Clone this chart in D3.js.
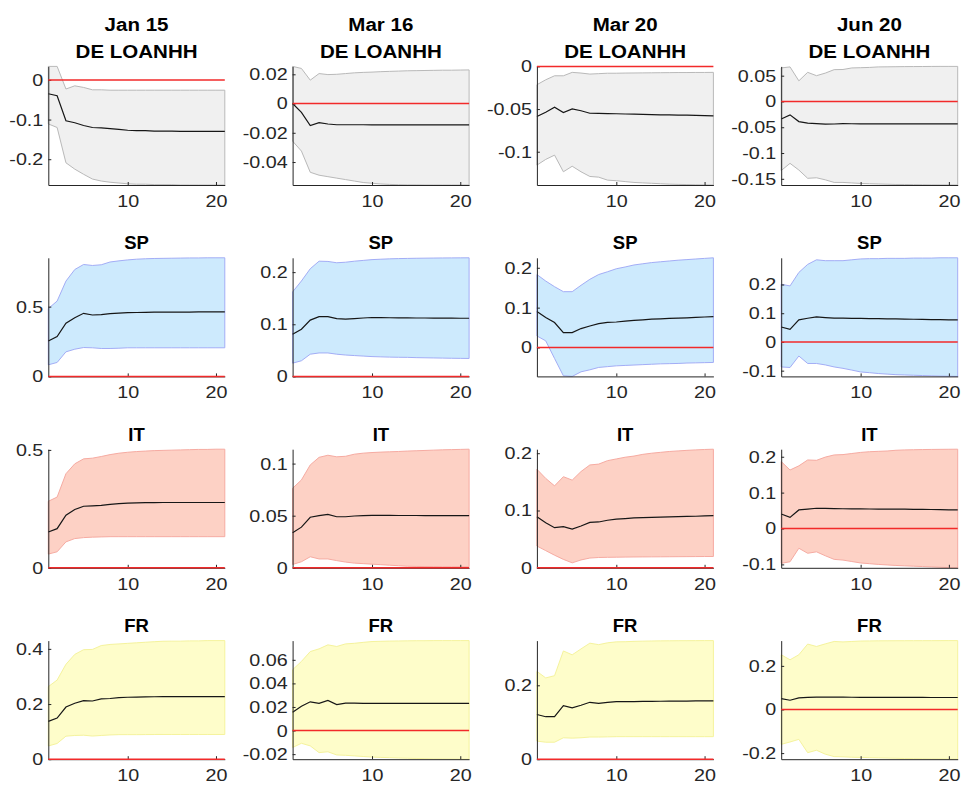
<!DOCTYPE html>
<html>
<head>
<meta charset="utf-8">
<script src="https://cdn.jsdelivr.net/npm/d3@7"></script>
<style>
  html, body { margin: 0; padding: 0; background: #ffffff; }
  svg { display: block; font-family: "Liberation Sans", Arial, Helvetica, sans-serif; }
</style>
</head>
<body>
<svg id="chart" width="961" height="785"></svg>
<script>
// Impulse responses over horizons 1..21: median and credible band per panel.
const horizons = d3.range(1, 22);
const columnDates = ["Jan 15", "Mar 16", "Mar 20", "Jun 20"];
const rowNames = ["DE LOANHH", "SP", "IT", "FR"];
const xTicks = [10, 20];

// DE LOANHH
const DE_Jan15_mid = [-0.035,-0.040,-0.103,-0.108,-0.115,-0.120,-0.121,-0.123,-0.125,-0.127,-0.128,-0.128,-0.129,-0.129,-0.129,-0.130,-0.130,-0.130,-0.130,-0.130,-0.130];
const DE_Jan15_hi  = [0.034,0.034,-0.023,-0.015,-0.019,-0.025,-0.025,-0.026,-0.026,-0.026,-0.026,-0.026,-0.026,-0.026,-0.026,-0.026,-0.026,-0.026,-0.026,-0.026,-0.026];
const DE_Jan15_lo  = [-0.111,-0.120,-0.209,-0.225,-0.238,-0.250,-0.255,-0.258,-0.260,-0.262,-0.263,-0.263,-0.264,-0.264,-0.264,-0.265,-0.265,-0.265,-0.265,-0.265,-0.265];

const DE_Mar16_mid = [0.000,-0.006,-0.015,-0.013,-0.014,-0.0145,-0.0145,-0.0145,-0.0145,-0.0146,-0.0146,-0.0146,-0.0146,-0.0146,-0.0146,-0.0146,-0.0146,-0.0146,-0.0146,-0.0146,-0.0146];
const DE_Mar16_hi  = [0.0254,0.024,0.016,0.0205,0.0198,0.020,0.0205,0.021,0.0213,0.0215,0.0218,0.022,0.0222,0.0224,0.0225,0.0226,0.0227,0.0228,0.0228,0.0229,0.023];
const DE_Mar16_lo  = [-0.0257,-0.0325,-0.047,-0.049,-0.050,-0.051,-0.052,-0.053,-0.054,-0.0545,-0.055,-0.0553,-0.0555,-0.0556,-0.0556,-0.0557,-0.0557,-0.0557,-0.0557,-0.0557,-0.0557];

const DE_Mar20_mid = [-0.0588,-0.0537,-0.0478,-0.054,-0.0498,-0.052,-0.0549,-0.055,-0.0553,-0.0555,-0.0558,-0.056,-0.0563,-0.0565,-0.0567,-0.0569,-0.057,-0.0572,-0.0574,-0.0576,-0.058];
const DE_Mar20_hi  = [-0.0215,-0.0157,-0.011,-0.011,-0.007,-0.0078,-0.009,-0.0085,-0.008,-0.008,-0.0078,-0.0077,-0.0076,-0.0075,-0.0074,-0.0073,-0.0072,-0.0072,-0.0071,-0.0071,-0.007];
const DE_Mar20_lo  = [-0.1157,-0.109,-0.104,-0.1235,-0.117,-0.1235,-0.129,-0.1298,-0.1333,-0.134,-0.135,-0.136,-0.1365,-0.137,-0.1375,-0.138,-0.1383,-0.1385,-0.1387,-0.1389,-0.139];

const DE_Jun20_mid = [-0.034,-0.026,-0.039,-0.042,-0.043,-0.044,-0.0437,-0.043,-0.0432,-0.0433,-0.0434,-0.0434,-0.0434,-0.0434,-0.0434,-0.0434,-0.0434,-0.0434,-0.0434,-0.0434,-0.0434];
const DE_Jun20_hi  = [0.065,0.067,0.040,0.0565,0.050,0.055,0.0617,0.062,0.065,0.0655,0.066,0.067,0.0672,0.0674,0.0676,0.0677,0.0678,0.0679,0.068,0.068,0.068];
const DE_Jun20_lo  = [-0.134,-0.120,-0.133,-0.149,-0.148,-0.152,-0.157,-0.157,-0.158,-0.159,-0.1595,-0.160,-0.1605,-0.161,-0.161,-0.1613,-0.1615,-0.1617,-0.1618,-0.1619,-0.162];

// SP
const SP_Jan15_mid = [0.254,0.286,0.381,0.421,0.452,0.440,0.443,0.450,0.454,0.457,0.458,0.459,0.460,0.460,0.461,0.461,0.461,0.462,0.462,0.462,0.462];
const SP_Jan15_hi  = [0.486,0.540,0.683,0.766,0.802,0.795,0.800,0.820,0.828,0.835,0.840,0.843,0.845,0.846,0.847,0.848,0.849,0.849,0.850,0.850,0.850];
const SP_Jan15_lo  = [0.083,0.100,0.176,0.195,0.207,0.205,0.200,0.200,0.202,0.205,0.205,0.205,0.205,0.205,0.205,0.205,0.205,0.205,0.205,0.205,0.205];

const SP_Mar16_mid = [0.081,0.0904,0.108,0.1147,0.1147,0.111,0.110,0.111,0.112,0.113,0.1128,0.1125,0.1123,0.1122,0.112,0.112,0.1118,0.1117,0.1116,0.1115,0.1115];
const SP_Mar16_hi  = [0.162,0.183,0.2065,0.221,0.2205,0.218,0.219,0.221,0.2225,0.224,0.2248,0.2255,0.226,0.2263,0.2266,0.2268,0.227,0.2272,0.2273,0.2274,0.2275];
const SP_Mar16_lo  = [0.0254,0.030,0.0426,0.045,0.045,0.0426,0.041,0.040,0.039,0.038,0.0375,0.037,0.0367,0.0365,0.036,0.0357,0.0354,0.0351,0.0348,0.0346,0.0344];

const SP_Mar20_mid = [0.090,0.075,0.0625,0.0375,0.0375,0.0475,0.054,0.060,0.063,0.064,0.066,0.068,0.0695,0.071,0.072,0.073,0.0738,0.0745,0.0755,0.0765,0.0775];
const SP_Mar20_hi  = [0.183,0.1667,0.1525,0.140,0.140,0.156,0.171,0.183,0.190,0.1975,0.202,0.207,0.210,0.213,0.215,0.217,0.219,0.2205,0.222,0.2235,0.225];
const SP_Mar20_lo  = [0.029,0.0167,-0.0275,-0.071,-0.0725,-0.061,-0.056,-0.050,-0.048,-0.046,-0.045,-0.044,-0.043,-0.042,-0.041,-0.0405,-0.040,-0.039,-0.0385,-0.038,-0.0375];

const SP_Jun20_mid = [0.052,0.044,0.0767,0.0826,0.087,0.085,0.083,0.0826,0.0823,0.082,0.0815,0.081,0.0805,0.080,0.0795,0.079,0.0785,0.078,0.0775,0.077,0.0767];
const SP_Jun20_hi  = [0.201,0.195,0.242,0.270,0.286,0.283,0.283,0.283,0.286,0.289,0.290,0.290,0.291,0.291,0.291,0.292,0.292,0.292,0.293,0.293,0.293];
const SP_Jun20_lo  = [-0.087,-0.089,-0.049,-0.075,-0.075,-0.080,-0.087,-0.092,-0.098,-0.1045,-0.107,-0.110,-0.112,-0.114,-0.115,-0.116,-0.117,-0.118,-0.119,-0.1195,-0.120];

// IT
const IT_Jan15_mid = [0.152,0.166,0.223,0.247,0.261,0.263,0.265,0.269,0.272,0.274,0.275,0.276,0.276,0.277,0.277,0.277,0.277,0.277,0.277,0.277,0.277];
const IT_Jan15_hi  = [0.282,0.300,0.399,0.441,0.462,0.465,0.472,0.480,0.486,0.490,0.493,0.495,0.497,0.498,0.499,0.500,0.501,0.502,0.502,0.503,0.503];
const IT_Jan15_lo  = [0.058,0.068,0.110,0.124,0.128,0.130,0.131,0.132,0.132,0.132,0.132,0.132,0.132,0.132,0.132,0.132,0.132,0.132,0.132,0.132,0.132];

const IT_Mar16_mid = [0.0337,0.039,0.0485,0.050,0.0513,0.049,0.049,0.0497,0.050,0.0503,0.0503,0.0503,0.0502,0.0502,0.0502,0.0501,0.0501,0.0501,0.050,0.050,0.050];
const IT_Mar16_hi  = [0.0763,0.0843,0.0987,0.106,0.108,0.1065,0.107,0.109,0.110,0.1106,0.111,0.1113,0.1116,0.112,0.1123,0.1126,0.1129,0.1132,0.1134,0.1136,0.1138];
const IT_Mar16_lo  = [0.0032,0.0058,0.0106,0.0085,0.0085,0.0069,0.0055,0.0045,0.004,0.0035,0.003,0.0025,0.002,0.0015,0.0013,0.0012,0.0011,0.001,0.001,0.001,0.001];

const IT_Mar20_mid = [0.089,0.0787,0.070,0.0717,0.0677,0.073,0.0793,0.080,0.083,0.085,0.086,0.087,0.0875,0.088,0.0885,0.089,0.0893,0.0897,0.090,0.0905,0.091];
const IT_Mar20_hi  = [0.172,0.156,0.143,0.159,0.153,0.168,0.1795,0.181,0.187,0.190,0.193,0.195,0.198,0.200,0.2015,0.203,0.204,0.205,0.2058,0.2065,0.207];
const IT_Mar20_lo  = [0.038,0.030,0.022,0.0147,0.0087,0.0137,0.017,0.018,0.0183,0.0185,0.0187,0.0189,0.019,0.0191,0.0192,0.0193,0.0194,0.0195,0.0196,0.0197,0.0197];

const IT_Jun20_mid = [0.0405,0.031,0.0517,0.054,0.0564,0.056,0.0555,0.055,0.0548,0.0545,0.0543,0.0541,0.054,0.054,0.0538,0.0535,0.0532,0.053,0.0525,0.052,0.0517];
const IT_Jun20_hi  = [0.1866,0.163,0.1746,0.191,0.190,0.199,0.205,0.206,0.209,0.212,0.214,0.215,0.216,0.218,0.219,0.2195,0.22,0.2203,0.2206,0.2208,0.221];
const IT_Jun20_lo  = [-0.097,-0.0927,-0.055,-0.069,-0.065,-0.076,-0.086,-0.088,-0.092,-0.096,-0.098,-0.100,-0.1015,-0.103,-0.104,-0.105,-0.106,-0.107,-0.108,-0.109,-0.1095];

// FR
const FR_Jan15_mid = [0.137,0.149,0.189,0.203,0.2126,0.211,0.2186,0.220,0.223,0.2246,0.225,0.226,0.2265,0.227,0.227,0.227,0.227,0.227,0.227,0.227,0.227];
const FR_Jan15_hi  = [0.263,0.287,0.344,0.380,0.397,0.398,0.412,0.416,0.418,0.420,0.422,0.424,0.426,0.4276,0.428,0.428,0.429,0.429,0.43,0.43,0.43];
const FR_Jan15_lo  = [0.048,0.057,0.0836,0.086,0.087,0.084,0.086,0.088,0.089,0.089,0.089,0.0893,0.0895,0.0896,0.0896,0.0896,0.0896,0.0896,0.0896,0.0896,0.0896];

const FR_Mar16_mid = [0.0156,0.0207,0.0244,0.023,0.0255,0.022,0.0233,0.0233,0.0231,0.023,0.023,0.023,0.023,0.023,0.023,0.023,0.023,0.023,0.023,0.023,0.023];
const FR_Mar16_hi  = [0.0516,0.0586,0.067,0.0693,0.0727,0.0713,0.0735,0.074,0.0748,0.0755,0.0757,0.0759,0.076,0.0761,0.0762,0.0762,0.0763,0.0763,0.0763,0.0763,0.0763];
const FR_Mar16_lo  = [-0.0144,-0.0108,-0.013,-0.0187,-0.018,-0.0207,-0.021,-0.0215,-0.022,-0.0225,-0.0228,-0.023,-0.0233,-0.0235,-0.0237,-0.0238,-0.024,-0.0241,-0.0242,-0.0243,-0.0243];

const FR_Mar20_mid = [0.121,0.115,0.115,0.145,0.139,0.146,0.154,0.151,0.154,0.1556,0.156,0.156,0.1563,0.1565,0.1568,0.157,0.1572,0.1574,0.1576,0.1578,0.158];
const FR_Mar20_hi  = [0.2376,0.220,0.226,0.293,0.2825,0.2985,0.314,0.310,0.315,0.3176,0.318,0.319,0.3195,0.320,0.3203,0.3205,0.3207,0.3208,0.3209,0.321,0.321];
const FR_Mar20_lo  = [0.049,0.046,0.046,0.058,0.057,0.058,0.060,0.060,0.0605,0.061,0.061,0.061,0.061,0.061,0.061,0.061,0.061,0.061,0.061,0.061,0.061];

const FR_Jun20_mid = [0.050,0.0425,0.0534,0.056,0.0565,0.0565,0.0565,0.0565,0.0562,0.056,0.056,0.0558,0.0556,0.0555,0.0554,0.0553,0.0552,0.0551,0.055,0.055,0.055];
const FR_Jun20_hi  = [0.251,0.228,0.251,0.300,0.289,0.301,0.312,0.310,0.312,0.314,0.3145,0.315,0.3152,0.3154,0.3155,0.3156,0.3157,0.3158,0.3159,0.316,0.316];
const FR_Jun20_lo  = [-0.160,-0.149,-0.137,-0.198,-0.187,-0.205,-0.216,-0.217,-0.219,-0.220,-0.221,-0.222,-0.223,-0.224,-0.225,-0.2255,-0.226,-0.2265,-0.227,-0.2275,-0.228];

// y tick values per row (one list per column)
const yTicksDE = [[-0.2,-0.1,0],[-0.04,-0.02,0,0.02],[-0.1,-0.05,0],[-0.15,-0.1,-0.05,0,0.05]];
const yTicksSP = [[0,0.5],[0,0.1,0.2],[0,0.1,0.2],[-0.1,0,0.1,0.2]];
const yTicksIT = [[0,0.5],[0,0.05,0.1],[0,0.1,0.2],[-0.1,0,0.1,0.2]];
const yTicksFR = [[0,0.2,0.4],[-0.02,0,0.02,0.04,0.06],[0,0.2],[-0.2,0,0.2]];

// Grid of panels assembled from the arrays above
const panels = [
  [[DE_Jan15_mid,DE_Jan15_lo,DE_Jan15_hi],[DE_Mar16_mid,DE_Mar16_lo,DE_Mar16_hi],[DE_Mar20_mid,DE_Mar20_lo,DE_Mar20_hi],[DE_Jun20_mid,DE_Jun20_lo,DE_Jun20_hi]],
  [[SP_Jan15_mid,SP_Jan15_lo,SP_Jan15_hi],[SP_Mar16_mid,SP_Mar16_lo,SP_Mar16_hi],[SP_Mar20_mid,SP_Mar20_lo,SP_Mar20_hi],[SP_Jun20_mid,SP_Jun20_lo,SP_Jun20_hi]],
  [[IT_Jan15_mid,IT_Jan15_lo,IT_Jan15_hi],[IT_Mar16_mid,IT_Mar16_lo,IT_Mar16_hi],[IT_Mar20_mid,IT_Mar20_lo,IT_Mar20_hi],[IT_Jun20_mid,IT_Jun20_lo,IT_Jun20_hi]],
  [[FR_Jan15_mid,FR_Jan15_lo,FR_Jan15_hi],[FR_Mar16_mid,FR_Mar16_lo,FR_Mar16_hi],[FR_Mar20_mid,FR_Mar20_lo,FR_Mar20_hi],[FR_Jun20_mid,FR_Jun20_lo,FR_Jun20_hi]]
];
const yTicksByRow = [yTicksDE, yTicksSP, yTicksIT, yTicksFR];

// Band colours per row
const bandFill   = ["#f0f0f0", "#cdeafd", "#fdd1c5", "#fefdca"];
const bandStroke = ["#b9b9b9", "#a3adf6", "#f6aba2", "#f5f39d"];

const axisColor = "#262626";
const tickFont = 17;       // tick label size
const tickStretch = 1.16;  // horizontal widening of tick glyphs
const svg = d3.select("#chart");

const panelW = 176.5, panelH = 118.6;
const leftOf = c => 48.3 + c * 244.3;
const topOf  = r => 66.4 + r * 191.4;

panels.forEach((row, r) => {
  row.forEach(([mid, lo, hi], c) => {
    const g = svg.append("g").attr("transform", `translate(${leftOf(c)},${topOf(r)})`);

    const x = d3.scaleLinear().domain([1, 21]).range([0, panelW]);
    const yExt = d3.extent([...lo, ...hi, 0]);
    const y = d3.scaleLinear().domain(yExt).range([panelH, 0]);

    const pts = horizons.map((h, i) => ({h, mid: mid[i], lo: lo[i], hi: hi[i]}));

    // credible band
    g.append("path")
      .datum(pts)
      .attr("d", d3.area().x(d => x(d.h)).y0(d => y(d.lo)).y1(d => y(d.hi)))
      .attr("fill", bandFill[r])
      .attr("stroke", bandStroke[r])
      .attr("stroke-width", 1);

    // median response
    g.append("path")
      .datum(pts)
      .attr("d", d3.line().x(d => x(d.h)).y(d => y(d.mid)))
      .attr("fill", "none")
      .attr("stroke", "#161616")
      .attr("stroke-width", 1.2);

    // axes: left and bottom only, ticks pointing inward
    const yAxis = d3.axisLeft(y)
      .tickValues(yTicksByRow[r][c])
      .tickFormat(v => String(+v.toFixed(4)))
      .tickSizeInner(-3).tickSizeOuter(0).tickPadding(5);
    const ya = g.append("g").call(yAxis);
    ya.select(".domain").attr("stroke", axisColor).attr("stroke-width", 1);
    ya.selectAll(".tick line").attr("stroke", axisColor);
    ya.selectAll("text")
      .attr("fill", axisColor).attr("font-size", tickFont)
      .attr("x", -5 / tickStretch)
      .attr("transform", `scale(${tickStretch},1)`);

    const xAxis = d3.axisBottom(x)
      .tickValues(xTicks)
      .tickSizeInner(-3).tickSizeOuter(0).tickPadding(10);
    const xa = g.append("g").attr("transform", `translate(0,${panelH})`).call(xAxis);
    xa.select(".domain").attr("stroke", axisColor).attr("stroke-width", 1);
    xa.selectAll(".tick line").attr("stroke", axisColor);
    xa.selectAll("text")
      .attr("fill", axisColor).attr("font-size", tickFont)
      .attr("transform", `scale(${tickStretch},1)`);

    // zero reference line
    g.append("line")
      .attr("x1", x(1)).attr("x2", x(21))
      .attr("y1", y(0)).attr("y2", y(0))
      .attr("stroke", "#f22a2a")
      .attr("stroke-width", 1.5);

    // titles
    const cx = panelW / 2;
    if (r === 0) {
      g.append("text")
        .attr("transform", `translate(${cx},-35.7) scale(1.08,1)`)
        .attr("text-anchor", "middle").attr("font-weight", "bold")
        .attr("font-size", 19).attr("fill", "#000").text(columnDates[c]);
    }
    g.append("text")
      .attr("transform", `translate(${cx},-8.7) scale(${r === 0 ? 1.08 : 1},1)`)
      .attr("text-anchor", "middle").attr("font-weight", "bold")
      .attr("font-size", r === 0 ? 19 : 18.5).attr("fill", "#000").text(rowNames[r]);
  });
});
</script>
</body>
</html>
